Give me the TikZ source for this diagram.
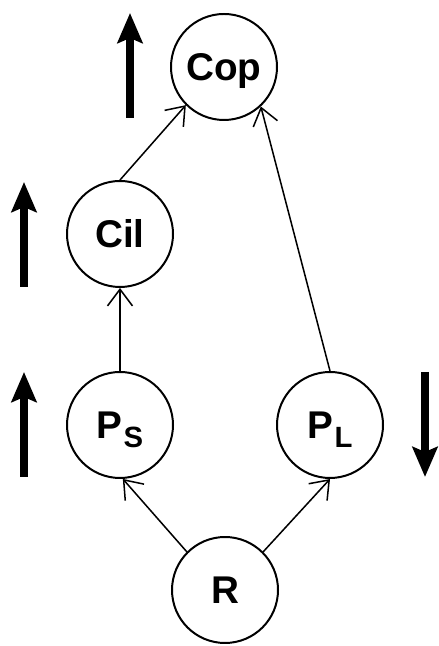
\documentclass[tikz,border=0pt]{standalone}
\usepackage{fontspec}
\setmainfont{Liberation Sans}
\usepackage{tikz}
\usetikzlibrary{arrows.meta,positioning}

\newcommand{\lowsub}[1]{\hspace{1pt}\raisebox{-8pt}[0pt][0pt]{\fontsize{25}{25}\selectfont #1}}

\begin{document}
\begin{tikzpicture}[
    var/.style={circle, draw, line width=1.7pt, minimum size=3.18cm, inner sep=0pt,
                text depth=0pt, font=\fontsize{33}{33}\selectfont\bfseries},
    link/.style={line width=1.3pt, -{Straight Barb[length=5mm,width=7.5mm]}},
    trend/.style={line width=6pt, -{Stealth[length=9mm,width=7.5mm,inset=1.5mm]}}
  ]
    \useasboundingbox (0,0) rectangle (13.14,19.38);

    % variables
    \node[var] (cop) at (6.72,17.37) {Cop};
    \node[var] (cil) at (3.6,12.36) {Cil};
    \node[var] (ps) at (3.6,6.63) {P\lowsub{S}};
    \node[var] (pl) at (9.9,6.63) {P\lowsub{L}};
    \node[var] (r) at (6.75,1.68) {R};

    % causal links
    \draw[link] (r.135) -- (ps.-87);
    \draw[link] (r.45) -- (pl.south);
    \draw[link] (ps.north) -- (cil.south);
    \draw[link] (cil.north) -- (cop.-135);
    \draw[link] (pl.north) -- (cop.-47);

    % trends
    \draw[trend] (3.9,15.84) -- (3.9,18.99);
    \draw[trend] (0.72,10.77) -- (0.72,13.92);
    \draw[trend] (0.72,5.07) -- (0.72,8.22);
    \draw[trend] (12.75,8.22) -- (12.75,5.07);
\end{tikzpicture}
\end{document}
